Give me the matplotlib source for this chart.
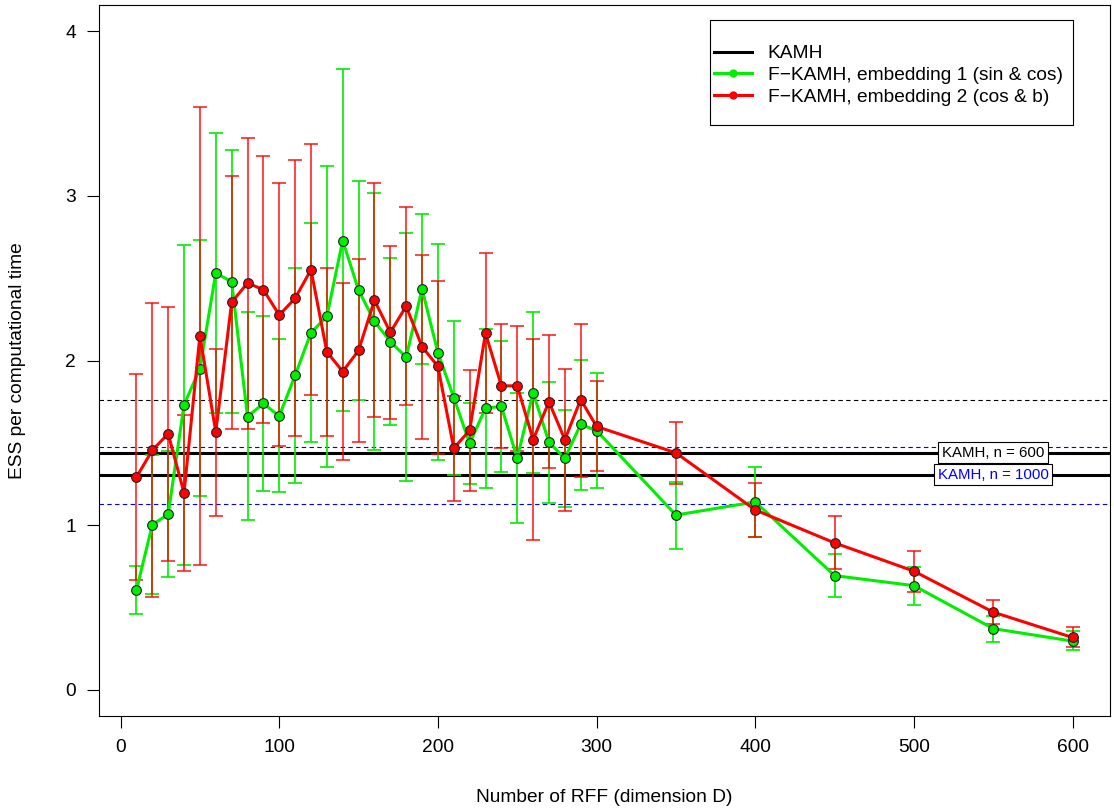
import numpy as np
import matplotlib.pyplot as plt
from matplotlib.patches import Rectangle

plt.rcParams['font.family'] = ['Liberation Sans', 'DejaVu Sans']

# numero de RFF
D = [10, 20, 30, 40, 50, 60, 70, 80, 90, 100, 110, 120, 130, 140, 150, 160, 170, 180, 190, 200,
     210, 220, 230, 240, 250, 260, 270, 280, 290, 300, 350, 400, 450, 500, 550, 600]

# embedding 1 (sin & cos)
emb1 = [0.605, 1.002, 1.066, 1.731, 1.951, 2.532, 2.478, 1.659, 1.739, 1.662, 1.910, 2.169, 2.268, 2.729,
        2.427, 2.238, 2.115, 2.020, 2.435, 2.048, 1.775, 1.496, 1.711, 1.721, 1.406, 1.805, 1.503, 1.406,
        1.612, 1.574, 1.061, 1.141, 0.693, 0.632, 0.371, 0.295]
emb1_lo = [0.457, 0.580, 0.682, 0.759, 1.176, 1.680, 1.680, 1.028, 1.209, 1.199, 1.258, 1.506, 1.353, 1.693,
           1.762, 1.455, 1.608, 1.266, 1.977, 1.393, 1.304, 1.247, 1.227, 1.324, 1.010, 1.317, 1.132, 1.107,
           1.214, 1.223, 0.857, 0.929, 0.566, 0.515, 0.289, 0.239]
emb1_hi = [0.754, 1.424, 1.450, 2.703, 2.731, 3.381, 3.279, 2.294, 2.271, 2.128, 2.563, 2.834, 3.184, 3.773,
           3.090, 3.018, 2.621, 2.775, 2.893, 2.709, 2.243, 1.739, 2.194, 2.117, 1.803, 2.294, 1.869, 1.700,
           2.002, 1.923, 1.264, 1.350, 0.823, 0.747, 0.449, 0.356]

# embedding 2 (cos & b)
emb2 = [1.291, 1.455, 1.555, 1.196, 2.151, 1.565, 2.353, 2.471, 2.430, 2.276, 2.378, 2.552, 2.053, 1.933,
        2.061, 2.366, 2.171, 2.330, 2.084, 1.964, 1.468, 1.575, 2.166, 1.846, 1.846, 1.519, 1.749, 1.519,
        1.763, 1.599, 1.439, 1.092, 0.892, 0.720, 0.471, 0.317]
emb2_lo = [0.664, 0.562, 0.779, 0.723, 0.759, 1.053, 1.585, 1.585, 1.619, 1.478, 1.539, 1.790, 1.539, 1.393,
           1.503, 1.654, 1.642, 1.729, 1.521, 1.434, 1.145, 1.209, 1.680, 1.470, 1.450, 0.907, 1.347, 1.086,
           1.291, 1.328, 1.248, 0.929, 0.732, 0.593, 0.398, 0.260]
emb2_hi = [1.920, 2.348, 2.327, 1.667, 3.540, 2.069, 3.120, 3.353, 3.241, 3.077, 3.220, 3.315, 2.565, 2.473,
           2.616, 3.077, 2.698, 2.934, 2.639, 2.486, 1.782, 1.943, 2.652, 2.220, 2.207, 2.130, 2.153, 1.951,
           2.220, 1.874, 1.627, 1.258, 1.053, 0.843, 0.545, 0.381]

# KAMH de referencia
kamh600 = 1.44
kamh1000 = 1.307
kamh600_band = [1.763, 1.131]   # linha tracejada preta / azul
kamh1000_band = [1.477]

W, H = 1114, 809
fig = plt.figure(figsize=(W / 100, H / 100), dpi=100)
ax = fig.add_axes([99 / W, 1 - 716 / H, 1011 / W, 711 / H])

green = '#00ee00'
red = '#ff0000'

# barras de erro
e1 = np.array(emb1)
e2 = np.array(emb2)
ax.errorbar(D, emb1, yerr=[e1 - np.array(emb1_lo), np.array(emb1_hi) - e1], fmt='none',
            ecolor=green, elinewidth=1.2, capsize=5, capthick=1.2, zorder=2)
ax.errorbar(D, emb2, yerr=[e2 - np.array(emb2_lo), np.array(emb2_hi) - e2], fmt='none',
            ecolor=red, elinewidth=1.2, capsize=5, capthick=1.2, alpha=0.85, zorder=2)

# linhas de referencia
ax.axhline(kamh600, color='black', lw=2.2, zorder=1)
ax.axhline(kamh1000, color='black', lw=2.2, zorder=1)
ax.axhline(kamh600_band[0], color='black', lw=0.8, ls=(0, (4, 3)), zorder=1)
ax.axhline(kamh1000_band[0], color='#0000ee', lw=0.8, ls=(0, (4, 3)), zorder=1)
ax.axhline(kamh600_band[1], color='#0000ee', lw=0.8, ls=(0, (4, 3)), zorder=1)

# series
ax.plot(D, emb1, color=green, lw=2.2, zorder=3)
ax.plot(D, emb1, 'o', ms=7, mfc=green, mec='#222222', mew=0.8, zorder=4)
ax.plot(D, emb2, color=red, lw=2.2, zorder=5)
ax.plot(D, emb2, 'o', ms=7, mfc=red, mec='#222222', mew=0.8, zorder=6)

box = dict(boxstyle='square,pad=0.25', fc='white', ec='black', lw=0.8)
ax.text(550, kamh600, 'KAMH, n = 600', ha='center', va='center', fontsize=10.8, bbox=box, zorder=7)
ax.text(550, kamh1000, 'KAMH, n = 1000', ha='center', va='center', fontsize=10.8, color='#0000ff',
        bbox=box, zorder=7)

# legenda
h0, = ax.plot([], [], color='black', lw=2.2)
h1, = ax.plot([], [], color=green, lw=2.2, marker='o', ms=5)
h2, = ax.plot([], [], color=red, lw=2.2, marker='o', ms=5)
leg = ax.legend([h0, h1, h2], ['KAMH', 'F\u2212KAMH, embedding 1 (sin & cos)',
                               'F\u2212KAMH, embedding 2 (cos & b)'],
                loc='upper left', bbox_to_anchor=(714 / W, 1 - 45 / H), bbox_transform=fig.transFigure,
                fontsize=13.8, frameon=False, handlelength=2.0, borderpad=0, borderaxespad=0,
                labelspacing=0.22, handletextpad=0.8)
fig.patches.append(Rectangle((710 / W, 1 - 125 / H), 363 / W, 105 / H, transform=fig.transFigure,
                             fill=False, ec='black', lw=0.8))

ax.set_xlim(-13.6, 623.6)
ax.set_ylim(-0.16, 4.16)
ax.set_xticks(range(0, 601, 100))
ax.set_yticks(range(0, 5))
ax.tick_params(direction='out', length=8.5, width=0.8, labelsize=13.8, pad=8)
for s in ax.spines.values():
    s.set_linewidth(0.8)

ax.set_xlabel('Number of RFF (dimension D)', fontsize=13.8, labelpad=24)
ax.set_ylabel('ESS per computational time', fontsize=13.8, labelpad=28)

fig.savefig('out.png', dpi=100)
